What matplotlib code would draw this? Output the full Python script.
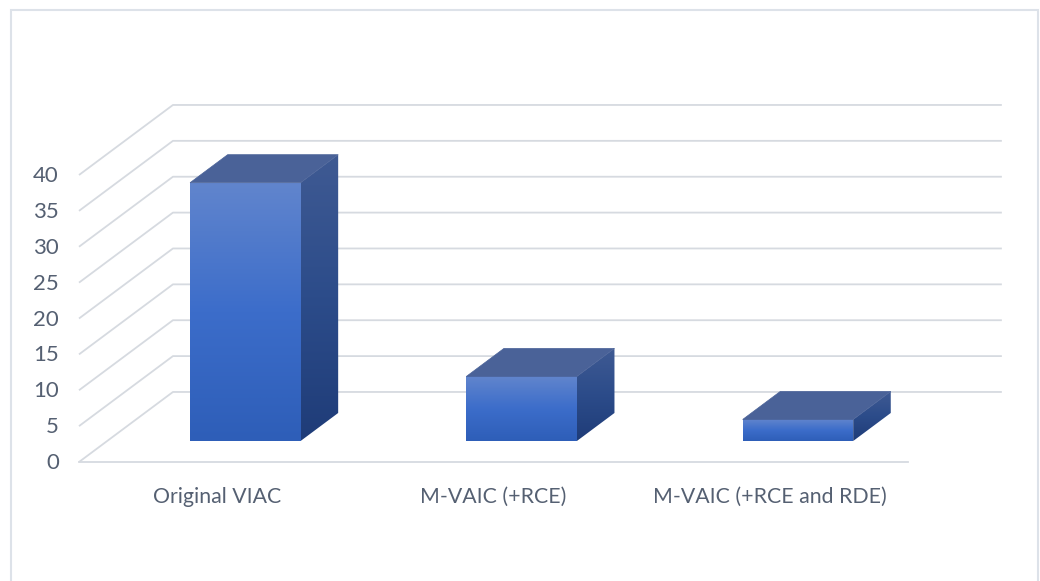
import numpy as np
import matplotlib
matplotlib.use("Agg")
import matplotlib.pyplot as plt
from matplotlib.patches import Polygon, Rectangle
from matplotlib.colors import LinearSegmentedColormap
from matplotlib.transforms import offset_copy

# ── data ─────────────────────────────────────────────────────────────────────
categories = ["Original VIAC", "M-VAIC (+RCE)", "M-VAIC (+RCE and RDE)"]
values = [36, 9, 3]
yticks = [0, 5, 10, 15, 20, 25, 30, 35, 40]

# ── 3D look (oblique projection) ─────────────────────────────────────────────
DX, DY = 0.34, 9.76        # depth offset of the back wall, in data units
Z0, Z1 = 0.3, 0.7          # bar depth range (fraction of floor depth)
BAR_W = 0.4                # bar width in category units

GRID = "#D6DAE0"
TEXT = "#556072"
FRONT = LinearSegmentedColormap.from_list("front", ["#2E5EB8", "#3C6DCA", "#6185CD"])
SIDE = LinearSegmentedColormap.from_list("side", ["#1F3C78", "#2C4C8A", "#3F5A93"])
TOP = "#4A6298"

plt.rcParams["font.family"] = ["Lato", "DejaVu Sans"]


def proj(x, z, v):
    return (x + z * DX, v + z * DY)


def grad_poly(ax, pts, cmap):
    poly = Polygon(pts, closed=True, facecolor="none", edgecolor="none")
    ax.add_patch(poly)
    xs = [p[0] for p in pts]
    ys = [p[1] for p in pts]
    g = np.linspace(0, 1, 256).reshape(-1, 1)
    im = ax.imshow(g, cmap=cmap, origin="lower", aspect="auto",
                   extent=(min(xs), max(xs), min(ys), max(ys)),
                   interpolation="bilinear", zorder=3)
    im.set_clip_path(poly)


fig = plt.figure(figsize=(10.4, 5.81), dpi=100)
ax = fig.add_axes([0, 0, 1, 1])
ax.set_axis_off()

n = len(categories)

# grid lines: left wall diagonal + back wall horizontal
for v in yticks:
    p0, p1, p2 = proj(0, 0, v), proj(0, 1, v), proj(n, 1, v)
    ax.plot([p0[0], p1[0], p2[0]], [p0[1], p1[1], p2[1]],
            color=GRID, lw=1.3, solid_capstyle="butt", zorder=1)
# front floor edge
f0, f1 = proj(0, 0, 0), proj(n, 0, 0)
ax.plot([f0[0], f1[0]], [f0[1], f1[1]], color=GRID, lw=1.3, zorder=1)

# bars
for i, v in enumerate(values):
    x0 = i + 0.5 - BAR_W / 2
    x1 = i + 0.5 + BAR_W / 2
    front = [proj(x0, Z0, 0), proj(x1, Z0, 0), proj(x1, Z0, v), proj(x0, Z0, v)]
    side = [proj(x1, Z0, 0), proj(x1, Z1, 0), proj(x1, Z1, v), proj(x1, Z0, v)]
    top = [proj(x0, Z0, v), proj(x1, Z0, v), proj(x1, Z1, v), proj(x0, Z1, v)]
    grad_poly(ax, side, SIDE)
    ax.add_patch(Polygon(top, closed=True, facecolor=TOP, edgecolor=TOP, lw=0.5, zorder=4))
    grad_poly(ax, front, FRONT)

# tick labels
ytrans = offset_copy(ax.transData, fig=fig, x=-20, y=-1, units="dots")
for v in yticks:
    ax.text(0, v, str(v), transform=ytrans, ha="right", va="center",
            fontsize=16, color=TEXT)
xtrans = offset_copy(ax.transData, fig=fig, x=0, y=-41, units="dots")
for i, c in enumerate(categories):
    ax.text(i + 0.5, 0, c, transform=xtrans, ha="center", va="baseline",
            fontsize=15.3, color=TEXT)

# front plane: category 0..3 -> px 79..908, value 0..40 -> px 462..175
ax.set_xlim(-79 / 276.3, (1040 - 79) / 276.3)
ax.set_ylim(-(581 - 462) / 7.175, 462 / 7.175)

# chart border
fig.add_artist(Rectangle((11 / 1040, -0.02), (1038 - 11) / 1040, (581 - 10) / 581 + 0.02,
                         transform=fig.transFigure, fill=False,
                         edgecolor="#DDE2E9", lw=1.5))

fig.savefig("out.png", dpi=100)
